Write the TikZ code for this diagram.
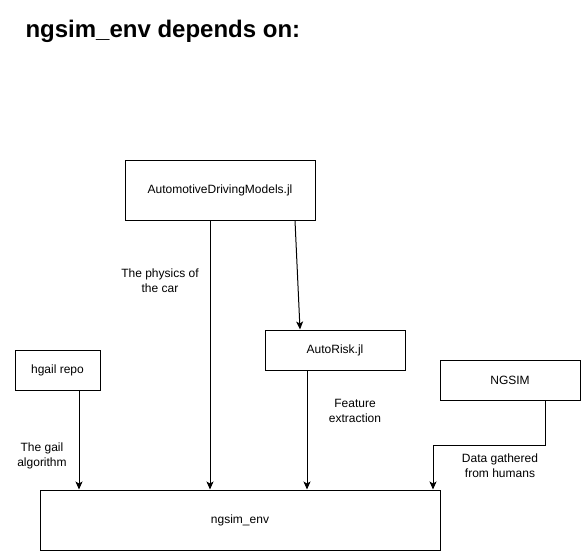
\documentclass[tikz,border=0pt]{standalone}
\usepackage{fontspec}
\setmainfont{Liberation Sans}
\usetikzlibrary{arrows.meta}
\begin{document}
\begin{tikzpicture}[x=1pt,y=-1pt,>={Stealth[length=8pt,width=7pt,inset=2pt]},line width=1pt,
  repo/.style={draw,rectangle,inner sep=0pt,font=\fontsize{12}{15}\selectfont},
  note/.style={align=center,font=\fontsize{12}{15}\selectfont}]
  \useasboundingbox (0,0) rectangle (581,551);

  % Title
  \node[anchor=west,inner sep=0pt,font=\bfseries\fontsize{24}{28}\selectfont] (title) at (25,31) {ngsim\_env depends on:};

  % Repositories (boxes)
  \node[repo,minimum width=190pt,minimum height=60pt] (adm) at (220,190) {AutomotiveDrivingModels.jl};
  \node[repo,minimum width=140pt,minimum height=40pt] (autorisk) at (335,350) {AutoRisk.jl};
  \node[repo,minimum width=85pt,minimum height=40pt] (hgail) at (57.5,370) {hgail repo};
  \node[repo,minimum width=140pt,minimum height=40pt] (ngsim) at (510,380) {NGSIM};
  \node[repo,minimum width=400pt,minimum height=60pt] (env) at (240,520) {ngsim\_env};

  % Dependencies
  \draw[->] ([xshift=-10pt]adm.south) -- ([xshift=-10pt]adm.south |- env.north);
  \draw[->] ([xshift=75pt]adm.south) -- ([xshift=-35pt]autorisk.north);
  \draw[->] ([xshift=21.5pt]hgail.south) -- ([xshift=21.5pt]hgail.south |- env.north);
  \draw[->] ([xshift=-28pt]autorisk.south) -- ([xshift=-28pt]autorisk.south |- env.north);
  \coordinate (bend) at (433,445);
  \draw[->] ([xshift=35pt]ngsim.south) |- (bend) -- (bend |- env.north);

  % Labels
  \node[note] (physics) at (160,281) {The physics of\\the car};
  \node[note] (feature) at (355,411) {Feature\\extraction};
  \node[note] (gail) at (42,456) {The gail\\algorithm};
  \node[note] (humans) at (500,466) {Data gathered\\from humans};
\end{tikzpicture}
\end{document}
